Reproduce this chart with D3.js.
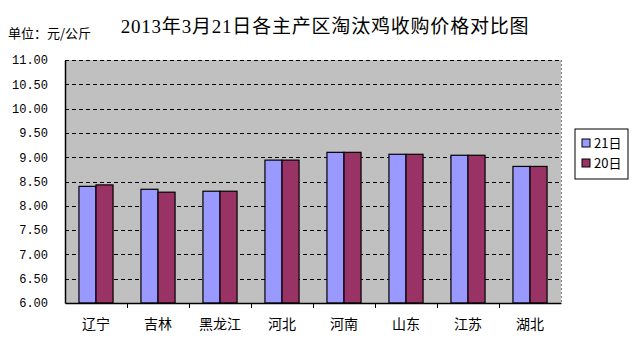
<!DOCTYPE html>
<html>
<head>
<meta charset="utf-8">
<script src="https://cdn.jsdelivr.net/npm/d3@7"></script>
<style>
    body { margin: 0; background: #fff; }
    svg { display: block; }
</style>
</head>
<body>
<div id="chart"></div>
<script>
// 数据
var categories = ['辽宁', '吉林', '黑龙江', '河北', '河南', '山东', '江苏', '湖北'];
var seriesNames = ['21日', '20日'];
var values21 = [8.40, 8.34, 8.30, 8.94, 9.10, 9.06, 9.04, 8.81];
var values20 = [8.43, 8.28, 8.30, 8.94, 9.10, 9.06, 9.04, 8.81];
var yTicks = [6, 6.5, 7, 7.5, 8, 8.5, 9, 9.5, 10, 10.5, 11];
var colors = ['#9999ff', '#993366'];

var W = 632, H = 362;
var margin = { left: 65, top: 60, right: 71, bottom: 59 };
var width = W - margin.left - margin.right;
var height = H - margin.top - margin.bottom;

var svg = d3.select('#chart')
    .append('svg')
    .attr('width', W)
    .attr('height', H);

// 标题
svg.append('text')
    .attr('x', 325)
    .attr('y', 33)
    .attr('text-anchor', 'middle')
    .attr('font-family', '"Liberation Serif", "Noto Sans CJK SC"')
    .attr('font-size', 19)
    .attr('letter-spacing', 0.8)
    .attr('fill', '#000')
    .text('2013年3月21日各主产区淘汰鸡收购价格对比图');

svg.append('text')
    .attr('x', 8)
    .attr('y', 38)
    .attr('font-family', '"Noto Sans CJK SC"')
    .attr('font-size', 13)
    .attr('fill', '#000')
    .text('单位：元/公斤');

var g = svg.append('g')
    .attr('transform', 'translate(' + margin.left + ',' + margin.top + ')');

var x0 = d3.scaleBand().domain(categories).range([0, width]).paddingInner(0.45).paddingOuter(0.225);
var xCat = d3.scaleBand().domain(categories).range([0, width]);
var x1 = d3.scaleBand().domain(seriesNames).range([0, x0.bandwidth()]);
var y = d3.scaleLinear().domain([6, 11]).range([height, 0]);

// 绘图区背景
g.append('rect')
    .attr('width', width)
    .attr('height', height)
    .attr('fill', '#c0c0c0');

// 网格线
g.append('g')
    .selectAll('line')
    .data(yTicks.slice(1))
    .join('line')
    .attr('x1', 0)
    .attr('x2', width)
    .attr('y1', function (d) { return Math.round(y(d)) + 0.5; })
    .attr('y2', function (d) { return Math.round(y(d)) + 0.5; })
    .attr('stroke', '#000')
    .attr('stroke-dasharray', '4,3');

// 右边框
g.append('line')
    .attr('x1', width + 0.5).attr('x2', width + 0.5)
    .attr('y1', 0).attr('y2', height)
    .attr('stroke', '#808080')
    .attr('stroke-dasharray', '2,2');

// 柱子
var rows = categories.map(function (c, i) { return { cat: c, vals: [values21[i], values20[i]] }; });
g.append('g')
    .selectAll('g')
    .data(rows)
    .join('g')
    .attr('transform', function (d) { return 'translate(' + x0(d.cat) + ',0)'; })
    .selectAll('rect')
    .data(function (d) { return d.vals.map(function (v, j) { return { name: seriesNames[j], v: v, j: j }; }); })
    .join('rect')
    .attr('x', function (d) { return x1(d.name); })
    .attr('y', function (d) { return y(d.v); })
    .attr('width', x1.bandwidth())
    .attr('height', function (d) { return height - y(d.v); })
    .attr('fill', function (d) { return colors[d.j]; })
    .attr('stroke', '#000')
    .attr('stroke-width', 1.2);

// Y 轴
var yAxis = d3.axisLeft(y).tickValues(yTicks).tickSize(0).tickPadding(17)
    .tickFormat(d3.format('.2f'));
g.append('g')
    .attr('class', 'y axis')
    .call(yAxis)
    .call(function (s) { s.select('.domain').attr('stroke', '#000').attr('stroke-width', 1.5); })
    .selectAll('text')
    .attr('font-family', '"Liberation Mono", monospace')
    .attr('font-size', 12)
    .attr('fill', '#000');

// X 轴
g.append('g')
    .attr('class', 'x axis')
    .attr('transform', 'translate(0,' + height + ')')
    .call(d3.axisBottom(xCat).tickSize(0).tickPadding(16))
    .call(function (s) {
        s.select('.domain').attr('stroke', '#000').attr('stroke-width', 1.5);
        s.selectAll('text')
            .attr('font-family', '"Noto Sans CJK SC"')
            .attr('font-size', 14)
            .attr('fill', '#000');
    });

// X 轴刻度线（类别边界）
g.append('g')
    .selectAll('line')
    .data(categories.slice(1))
    .join('line')
    .attr('x1', function (d) { return Math.round(xCat(d)) + 0.5; })
    .attr('x2', function (d) { return Math.round(xCat(d)) + 0.5; })
    .attr('y1', height)
    .attr('y2', height + 5)
    .attr('stroke', '#000');

// 图例
var legend = svg.append('g').attr('transform', 'translate(575,129)');
legend.append('rect')
    .attr('width', 53)
    .attr('height', 50)
    .attr('fill', '#fff')
    .attr('stroke', '#000');
var items = legend.selectAll('g.item')
    .data(seriesNames)
    .join('g')
    .attr('class', 'item')
    .attr('transform', function (d, i) { return 'translate(7,' + (10 + i * 20) + ')'; });
items.append('rect')
    .attr('width', 8)
    .attr('height', 8)
    .attr('fill', function (d, i) { return colors[i]; })
    .attr('stroke', '#000');
items.append('text')
    .attr('x', 12)
    .attr('y', 9)
    .attr('font-family', '"Noto Sans CJK SC"')
    .attr('font-size', 13)
    .attr('fill', '#000')
    .text(function (d) { return d; });
</script>
</body>
</html>
